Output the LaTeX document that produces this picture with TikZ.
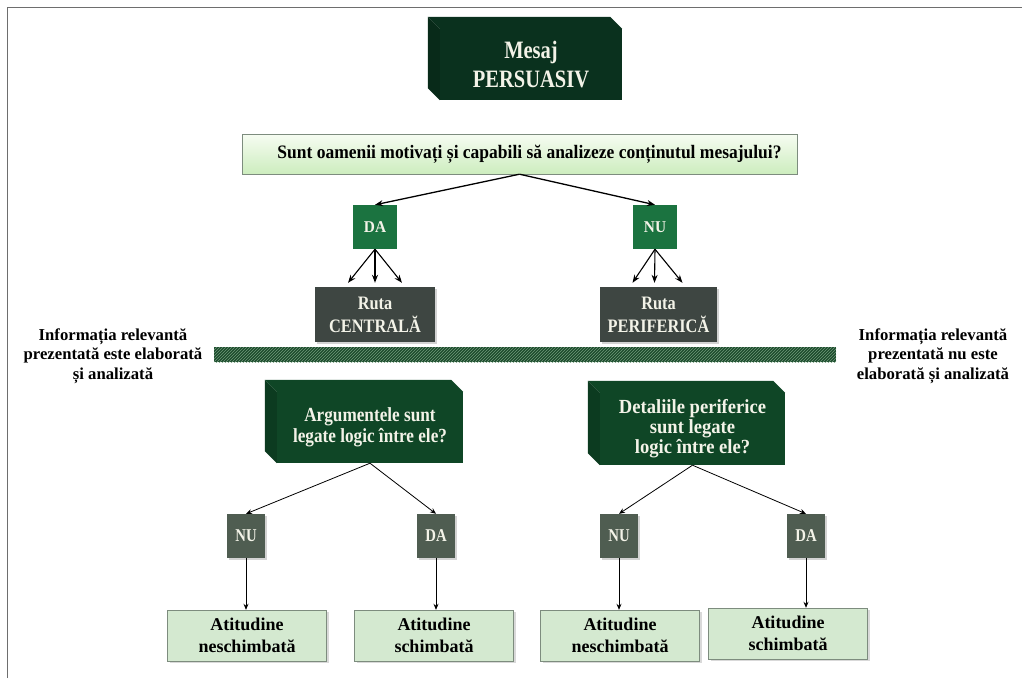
\documentclass[tikz,border=0pt]{standalone}
\usepackage{fontspec}
\setmainfont{Liberation Serif}
\newfontfamily\narrowA[FakeStretch=0.82]{Liberation Serif}
\newfontfamily\narrowR[FakeStretch=0.86]{Liberation Serif}
\newfontfamily\narrowQ[FakeStretch=0.92]{Liberation Serif}
\newfontfamily\narrowC[FakeStretch=0.93]{Liberation Serif}
\usetikzlibrary{arrows.meta,shadows,patterns}

\definecolor{deepgreen}{HTML}{0A311E}
\definecolor{deepgreenside}{HTML}{082A19}
\definecolor{midgreen}{HTML}{0F4626}
\definecolor{midgreenside}{HTML}{0C3B20}
\definecolor{yesgreen}{HTML}{1B7340}
\definecolor{routegray}{HTML}{3E4642}
\definecolor{smallgray}{HTML}{4F5D51}
\definecolor{paletext}{HTML}{F3F3E8}
\definecolor{barbg}{HTML}{1C4A2C}
\definecolor{barline}{HTML}{6F9A7A}
\definecolor{leafgreen}{HTML}{D4E9D0}
\definecolor{leafedge}{HTML}{7D8C7E}
\definecolor{qtop}{HTML}{F6FCF2}
\definecolor{qbottom}{HTML}{CDEDBE}
\definecolor{frame}{HTML}{6E6E6E}

\tikzset{
  frontface/.style={fill=#1, draw=none, text=paletext, align=center, inner sep=0pt,
    font=\narrowR\bfseries\fontsize{20}{21}\selectfont},
  question/.style={draw=leafedge, top color=qtop, bottom color=qbottom,
    minimum width=555, minimum height=40, inner sep=0pt,
    font=\narrowQ\bfseries\fontsize{19}{21}\selectfont},
  choice/.style={fill=yesgreen, text=paletext, minimum width=44, minimum height=44,
    inner sep=0pt, font=\narrowC\bfseries\fontsize{16.5}{18}\selectfont},
  route/.style={fill=routegray, text=paletext, minimum width=120, minimum height=55,
    inner sep=0pt, align=center, font=\narrowR\bfseries\fontsize{19}{23}\selectfont,
    drop shadow={shadow xshift=2pt, shadow yshift=-2pt, opacity=.35}},
  smallchoice/.style={fill=smallgray, text=paletext, minimum width=38, minimum height=44,
    inner sep=0pt, font=\narrowA\bfseries\fontsize{18}{18}\selectfont,
    drop shadow={shadow xshift=2pt, shadow yshift=-2pt, opacity=.35}},
  leaf/.style={fill=leafgreen, draw=leafedge, minimum width=159, minimum height=51,
    inner sep=0pt, align=center, font=\bfseries\fontsize{18}{22}\selectfont,
    drop shadow={shadow xshift=2pt, shadow yshift=-2pt, opacity=.3}},
  sidenote/.style={align=center, inner sep=0pt, font=\bfseries\fontsize{16.7}{19.5}\selectfont},
  hatchbar/.style={fill=barbg, postaction={pattern=north east lines, pattern color=barline},
    minimum width=622, minimum height=15, inner sep=0pt},
  toparrow/.style={-{Stealth[length=8pt,width=6pt]}, line width=1.3pt},
  lowarrow/.style={-{Stealth[length=6pt,width=5pt]}, line width=0.8pt},
}

\begin{document}
\begin{tikzpicture}[x=1pt,y=-1pt]
\useasboundingbox (0,0) rectangle (1022,678);

% page frame
\coordinate (fbl) at (7,678);
\coordinate (ftl) at (7,7);
\coordinate (ftr) at (1022,7);
\draw[frame, line width=1pt] (fbl) -- (ftl) -- (ftr);

% message block (front face plus bevelled top and left faces)
\node[frontface=deepgreen, minimum width=182, minimum height=71,
      font=\narrowA\bfseries\fontsize{25}{29}\selectfont] (msg) at (531,64.5) {Mesaj\\PERSUASIV};
\fill[deepgreen] (msg.north west) -- ([shift={(-12,-12)}]msg.north west)
  -- ([shift={(-12,-12)}]msg.north east) -- (msg.north east) -- cycle;
\fill[deepgreenside] (msg.north west) -- ([shift={(-12,-12)}]msg.north west)
  -- ([shift={(-12,-12)}]msg.south west) -- (msg.south west) -- cycle;

% question (text sits slightly right of the box centre)
\node[question] (q) at (519.5,154) {\hspace*{20pt}Sunt oamenii motivați și capabili să analizeze conținutul mesajului?};

% first answers
\node[choice] (da) at (375,227) {DA};
\node[choice] (nu) at (655,227) {NU};
\draw[toparrow] (q.south) -- (da.north);
\draw[toparrow] (q.south) -- (nu.north);

% routes
\node[route] (rc) at (375,314.5) {Ruta\\CENTRALĂ};
\node[route, minimum width=117] (rp) at (658.5,314.5) {Ruta\\PERIFERICĂ};
\foreach \dx in {-27,0,27}
  \draw[toparrow, line width=1.1pt] (da.south) -- ([xshift=\dx pt, yshift=4pt]rc.north);
\draw[toparrow, line width=1.1pt] (nu.south) -- ([xshift=-26pt, yshift=4pt]rp.north);
\draw[toparrow, line width=1.1pt] (nu.south) -- ([xshift=-4pt, yshift=4pt]rp.north);
\draw[toparrow, line width=1.1pt] (nu.south) -- ([xshift=24pt, yshift=4pt]rp.north);

% dividing bar and side notes
\node[hatchbar] (bar) at (525,354.5) {};
\node[sidenote] (noteL) at (113,356) {Informația relevantă\\prezentată este elaborată\\și analizată};
\node[sidenote] (noteR) at (933,356) {Informația relevantă\\prezentată nu este\\elaborată și analizată};

% second-level questions
\node[frontface=midgreen, minimum width=186, minimum height=71] (arg) at (370,427.5)
  {Argumentele sunt\\legate logic între ele?};
\fill[midgreen] (arg.north west) -- ([shift={(-12,-12)}]arg.north west)
  -- ([shift={(-12,-12)}]arg.north east) -- (arg.north east) -- cycle;
\fill[midgreenside] (arg.north west) -- ([shift={(-12,-12)}]arg.north west)
  -- ([shift={(-12,-12)}]arg.south west) -- (arg.south west) -- cycle;

\node[frontface=midgreen, minimum width=185, minimum height=72,
      font=\narrowC\bfseries\fontsize{20}{20}\selectfont] (det) at (692.5,429)
  {Detaliile periferice\\sunt legate\\logic între ele?};
\fill[midgreen] (det.north west) -- ([shift={(-12,-12)}]det.north west)
  -- ([shift={(-12,-12)}]det.north east) -- (det.north east) -- cycle;
\fill[midgreenside] (det.north west) -- ([shift={(-12,-12)}]det.north west)
  -- ([shift={(-12,-12)}]det.south west) -- (det.south west) -- cycle;

% second-level answers
\node[smallchoice] (nuA) at (246,536) {NU};
\node[smallchoice] (daA) at (436,536) {DA};
\node[smallchoice] (nuB) at (619,536) {NU};
\node[smallchoice] (daB) at (806,536) {DA};
\draw[lowarrow] (arg.south) -- (nuA.north);
\draw[lowarrow] (arg.south) -- (daA.north);
\draw[lowarrow] (det.south) -- (nuB.north);
\draw[lowarrow] (det.south) -- (daB.north);

% outcomes
\node[leaf] (o1) at (247,635.5) {Atitudine\\neschimbată};
\node[leaf] (o2) at (434,635.5) {Atitudine\\schimbată};
\node[leaf] (o3) at (620,635.5) {Atitudine\\neschimbată};
\node[leaf] (o4) at (788,633.5) {Atitudine\\schimbată};
\draw[lowarrow] (nuA.south) -- (nuA.south |- o1.north);
\draw[lowarrow] (daA.south) -- (daA.south |- o2.north);
\draw[lowarrow] (nuB.south) -- (nuB.south |- o3.north);
\draw[lowarrow] (daB.south) -- (daB.south |- o4.north);
\end{tikzpicture}
\end{document}
